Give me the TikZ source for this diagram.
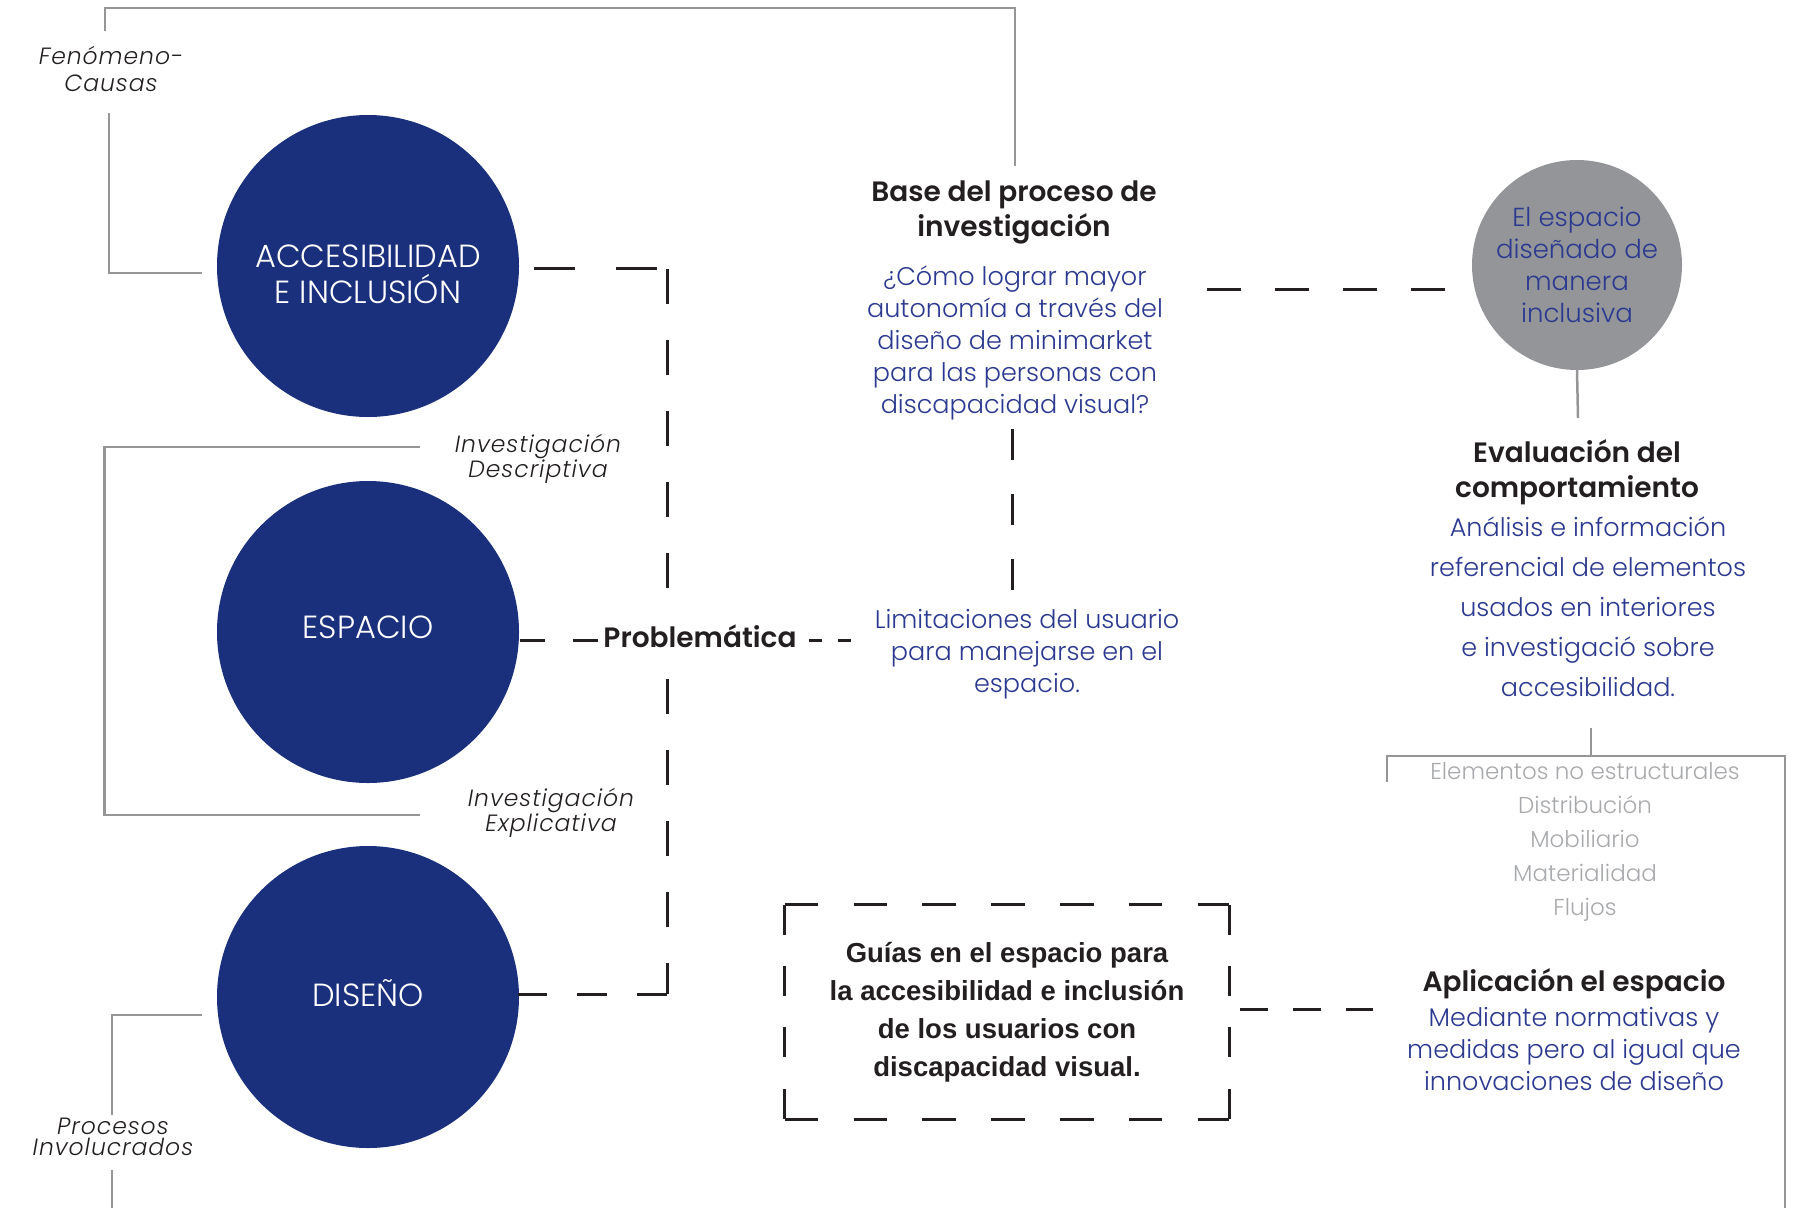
\documentclass[tikz,border=0pt]{standalone}
\usepackage{fontspec}
\setmainfont{Poppins}[BoldFont=* SemiBold]
\newfontfamily\poplight{Poppins}[UprightFont=* Light, ItalicFont=* Light Italic]
\newfontfamily\arialf{Liberation Sans}
\usetikzlibrary{calc}
\definecolor{navy}{RGB}{27,48,125}
\definecolor{qblue}{RGB}{43,57,144}
\definecolor{dark}{RGB}{35,31,32}
\definecolor{lgray}{RGB}{150,150,150}
\definecolor{ltext}{RGB}{167,169,172}
\definecolor{gcircle}{RGB}{147,149,152}
\begin{document}
\begin{tikzpicture}[x=1pt,y=-1pt,
  bigcirc/.style={circle,fill=navy,minimum size=302pt,inner sep=0pt},
  circt/.style={text=white,align=center,inner sep=0pt,font=\poplight\fontsize{32}{36}\selectfont},
  graycirc/.style={circle,fill=gcircle,minimum size=210pt,inner sep=0pt,text=qblue,align=center,font=\poplight\fontsize{26}{32}\selectfont},
  boldt/.style={text=dark,align=center,inner sep=2pt,font=\fontsize{28}{35}\selectfont\bfseries},
  bluet/.style={text=qblue,align=center,inner sep=2pt,font=\poplight\fontsize{25.5}{32}\selectfont},
  listt/.style={text=ltext,align=center,inner sep=2pt,font=\poplight\fontsize{23}{34}\selectfont},
  itl/.style={text=dark,align=center,inner sep=1pt,font=\poplight\fontsize{23.5}{21}\selectfont\itshape\addfontfeatures{LetterSpace=4}},
  guiab/.style={minimum width=444pt,minimum height=214pt,align=center,text=dark,font=\arialf\fontsize{27.5}{38}\selectfont\bfseries},
  gl/.style={draw=lgray,line width=2.5pt},
  dl/.style={draw=dark,line width=3pt},
]
\useasboundingbox (0,0) rectangle (1809,1208);

% circles
\node[bigcirc] (acc) at (368,266) {};
\node[bigcirc] (esp) at (368,632) {};
\node[bigcirc] (dis) at (368,997) {};
\node[circt] (acct) at (368,274) {ACCESIBILIDAD\\E INCLUSIÓN};
\node[circt] (espt) at (368,627) {ESPACIO};
\node[circt] (dist) at (368,993) {DISEÑO};
\node[graycirc] (gc) at (1577,265) {El espacio\\diseñado de\\manera\\inclusiva};

% texts
\node[boldt] (base) at (1014,212) {Base del proceso de\\investigación};
\node[bluet] (q) at (1015,343) {¿Cómo lograr mayor\\autonomía a través del\\diseño de minimarket\\para las personas con\\discapacidad visual?};
\node[bluet] (lim) at (1027,654) {Limitaciones del usuario\\para manejarse en el\\espacio.};
\node[boldt] (prob) at (700,636) {Problemática};
\node[boldt] (eval) at (1577,472) {Evaluación del\\comportamiento};
\node[bluet,font=\poplight\fontsize{25.5}{40}\selectfont] (anal) at (1588,607) {Análisis e información\\referencial de elementos\\usados en interiores\\e investigació sobre\\accesibilidad.};
\node[listt] (list) at (1585,842) {Elementos no estructurales\\Distribución\\Mobiliario\\Materialidad\\Flujos};
\node[boldt] (apl) at (1574,984) {Aplicación el espacio};
\node[bluet] (med) at (1574,1049) {Mediante normativas y\\medidas pero al igual que\\innovaciones de diseño};
\node[guiab] (guia) at (1007,1012) {Guías en el espacio para\\la accesibilidad e inclusión\\de los usuarios con\\discapacidad visual.};
\draw[dl,dash pattern=on 33.5pt off 35.3pt] (guia.north west) -- (guia.north east);
\draw[dl,dash pattern=on 33.5pt off 35.3pt] (guia.south west) -- (guia.south east);
\draw[dl,dash pattern=on 30pt off 31.3pt] (guia.north west) -- (guia.south west);
\draw[dl,dash pattern=on 30pt off 31.3pt] (guia.north east) -- (guia.south east);

% italic labels
\node[itl,font=\poplight\fontsize{23.5}{27}\selectfont\itshape\addfontfeatures{LetterSpace=4}] (fen) at (111,69) {Fenómeno-\\Causas};
\node[itl] (desc) at (538,459) {Investigación\\Descriptiva};
\node[itl] (expl) at (551,813) {Investigación\\Explicativa};
\node[itl] (proc) at (113,1137) {Procesos\\Involucrados};

% gray brackets
\coordinate (f1) at (105,31);
\coordinate (f2) at (109,113);
\coordinate (f3) at (202,273);
\coordinate (b1) at (1015,166);
\draw[gl] (f1) -- (105,8) -- (1015,8) -- (b1);
\draw[gl] (f2) -- (109,273) -- (f3);
\coordinate (d1) at (420,447);
\coordinate (d2) at (420,815);
\draw[gl] (d1) -- (104.5,447) -- (104.5,815) -- (d2);
\coordinate (p1) at (202,1015);
\coordinate (p2) at (112,1115);
\coordinate (p3) at (112,1170);
\coordinate (p4) at (112,1208);
\draw[gl] (p1) -- (112,1015) -- (p2);
\draw[gl] (p3) -- (p4);
\coordinate (e1) at (1578,418);
\draw[gl] (gc.south) -- (e1);
\coordinate (l0) at (1591,728);
\coordinate (l1) at (1387,782);
\coordinate (l2) at (1785,1208);
\draw[gl] (l0) -- (1591,756);
\draw[gl] (l1) -- (1387,756) -- (1785,756) -- (l2);

% dashed connectors
\coordinate (a1) at (534,268);
\coordinate (k1) at (667,268);
\coordinate (k2) at (667,994);
\coordinate (a2) at (518,994);
\draw[dl,dash pattern=on 41pt off 41pt] (a1) -- (k1);
\draw[dl,dash pattern=on 35pt off 36pt] (667,269) -- (667,588);
\draw[dl,dash pattern=on 35pt off 36pt] (667,679) -- (k2);
\draw[dl,dash pattern=on 30pt off 30pt] (k2) -- (a2);
\coordinate (s1) at (520,640);
\coordinate (s2) at (598,640);
\draw[dl,dash pattern=on 25pt off 28pt] (s1) -- (s2);
\coordinate (s3) at (809,640);
\coordinate (s4) at (852,640);
\draw[dl,dash pattern=on 13pt off 16pt] (s3) -- (s4);
\coordinate (v1) at (1012,429);
\coordinate (v2) at (1012,591);
\draw[dl,dash pattern=on 31pt off 34pt] (v1) -- (v2);
\coordinate (h1) at (1207,289);
\coordinate (h2) at (1445,289);
\draw[dl,dash pattern=on 34pt off 34pt] (h1) -- (h2);
\coordinate (g1) at (1240,1009);
\coordinate (g2) at (1373,1009);
\draw[dl,dash pattern=on 28pt off 25pt] (g1) -- (g2);
\end{tikzpicture}
\end{document}
